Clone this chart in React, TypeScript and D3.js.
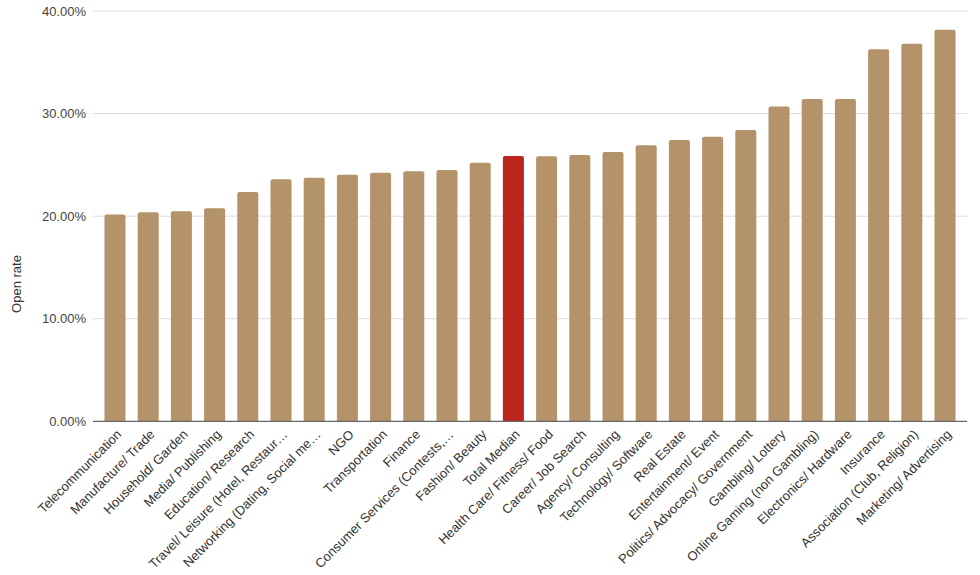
import React from "react";
import * as d3 from "d3";

const categories: string[] = [
  "Telecommunication",
  "Manufacture/ Trade",
  "Household/ Garden",
  "Media/ Publishing",
  "Education/ Research",
  "Travel/ Leisure (Hotel, Restaur…",
  "Networking (Dating, Social me…",
  "NGO",
  "Transportation",
  "Finance",
  "Consumer Services (Contests,…",
  "Fashion/ Beauty",
  "Total Median",
  "Health Care/ Fitness/ Food",
  "Career/ Job Search",
  "Agency/ Consulting",
  "Technology/ Software",
  "Real Estate",
  "Entertainment/ Event",
  "Politics/ Advocacy/ Government",
  "Gambling/ Lottery",
  "Online Gaming (non Gambling)",
  "Electronics/ Hardware",
  "Insurance",
  "Association (Club, Religion)",
  "Marketing/ Advertising",
];

const openRates: number[] = [
  20.17, 20.37, 20.47, 20.76, 22.35, 23.6, 23.74, 24.04, 24.23, 24.37, 24.5,
  25.2, 25.86, 25.83, 25.96, 26.25, 26.9, 27.42, 27.74, 28.39, 30.7, 31.41,
  31.41, 36.26, 36.8, 38.17,
];

const highlight = "Total Median";
const yTicks: number[] = [0, 10, 20, 30, 40];

export default function App() {
  const W = 980;
  const H = 575;
  const left = 93;
  const right = 967;
  const top = 11;
  const bottom = 421.3;

  const x = d3
    .scaleBand<string>()
    .domain(categories)
    .range([left, right])
    .paddingInner(0.367)
    .paddingOuter(0.346);
  const y = d3.scaleLinear().domain([0, 40]).range([bottom, top]);

  const font = "Arial, 'Liberation Sans', Helvetica, sans-serif";
  const r = 2;

  const barPath = (x0: number, w: number, y0: number, y1: number) => {
    return `M${x0},${y1} L${x0},${y0 + r} Q${x0},${y0} ${x0 + r},${y0} L${x0 + w - r},${y0} Q${x0 + w},${y0} ${x0 + w},${y0 + r} L${x0 + w},${y1} Z`;
  };

  return (
    <svg
      width={W}
      height={H}
      style={{ position: "absolute", left: 0, top: 0, background: "#fff" }}
      fontFamily={font}
    >
      {yTicks.map((t) => (
        <g key={t}>
          {t !== 0 && (
            <line
              x1={left}
              x2={right}
              y1={y(t)}
              y2={y(t)}
              stroke="#dcdcdc"
              strokeWidth={1}
            />
          )}
          <text
            x={86}
            y={y(t)}
            dy="0.35em"
            textAnchor="end"
            fontSize={13}
            fill="#444"
          >
            {d3.format(".2f")(t) + "%"}
          </text>
        </g>
      ))}
      {categories.map((c, i) => {
        const x0 = x(c) as number;
        const w = x.bandwidth();
        return (
          <path
            key={c}
            d={barPath(x0, w, y(openRates[i]), y(0))}
            fill={c === highlight ? "#bb251b" : "#b4936a"}
          />
        );
      })}
      <line
        x1={left}
        x2={right}
        y1={y(0)}
        y2={y(0)}
        stroke="#666"
        strokeWidth={1.2}
      />
      {categories.map((c) => {
        const cx = (x(c) as number) + x.bandwidth() / 2;
        return (
          <text
            key={"l" + c}
            transform={`translate(${cx + 4},${432}) rotate(-45)`}
            textAnchor="end"
            dy="0.35em"
            fontSize={13}
            fill="#333"
          >
            {c}
          </text>
        );
      })}
      <text
        transform={`translate(21,284) rotate(-90)`}
        textAnchor="middle"
        fontSize={13}
        fill="#333"
      >
        Open rate
      </text>
    </svg>
  );
}
